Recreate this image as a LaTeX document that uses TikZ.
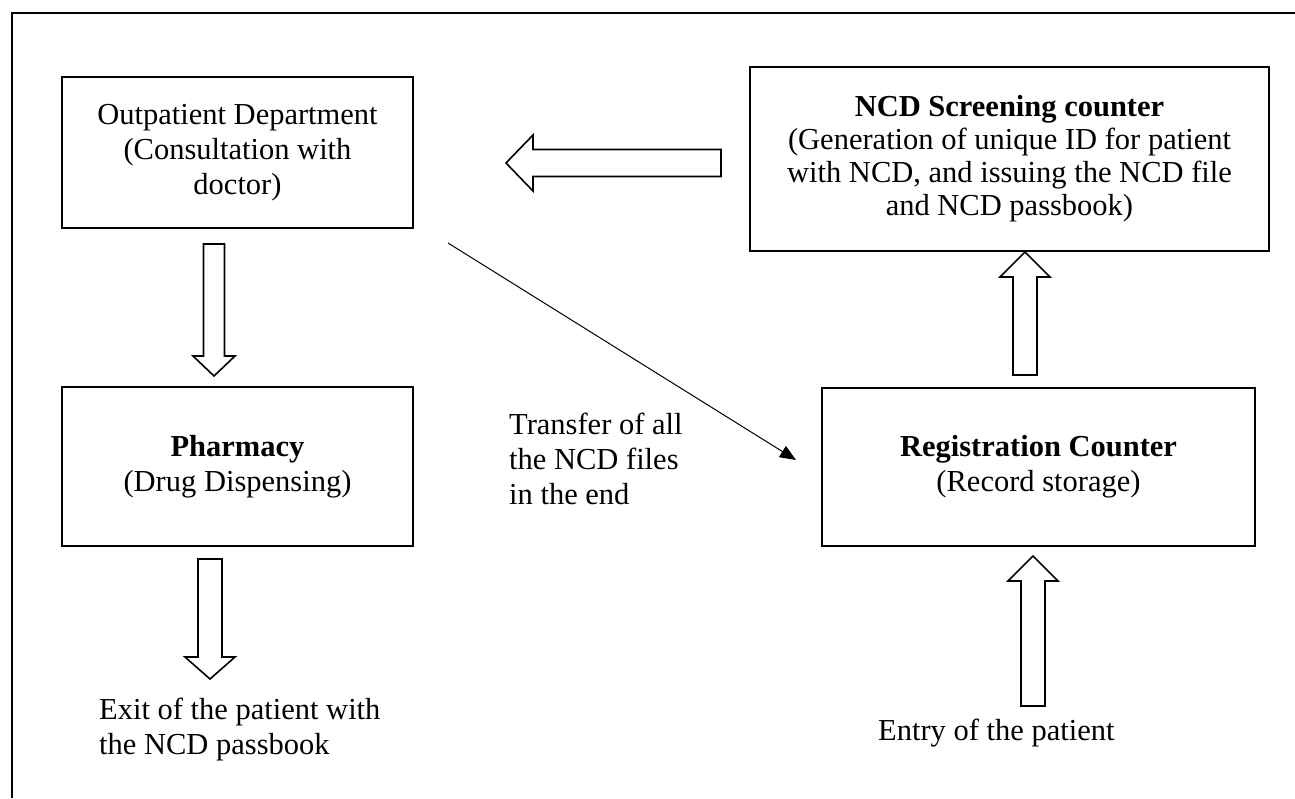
\documentclass[tikz,border=0pt]{standalone}
\usepackage{fontspec}
\setmainfont{Liberation Serif}
\usepackage{tikz}
\usetikzlibrary{arrows.meta, positioning, calc}

\tikzset{
  pics/fatarrow/.style n args={4}{code={
    \draw[blockarr] (0,-#2) -- (#1-#4,-#2) -- (#1-#4,-#3) -- (#1,0)
      -- (#1-#4,#3) -- (#1-#4,#2) -- (0,#2) -- cycle;
  }}
}

\begin{document}
\begin{tikzpicture}[
  x=1pt, y=-1pt,
  box/.style={draw=black, line width=2pt, inner sep=0pt,
              font=\fontsize{30.5}{35}\selectfont, align=center},
  lbl/.style={inner sep=0pt, font=\fontsize{30.5}{35}\selectfont, align=left},
  blockarr/.style={draw=black, fill=white, line width=1.6pt},
  arr/.style={-{Triangle[length=16pt, width=13pt]}, line width=1pt}
]
  \useasboundingbox (0,0) rectangle (1295,798);
  \draw[line width=2.2pt] (12,798) -- (12,13) -- (1295,13);

  \node[box, minimum width=351pt, minimum height=151pt] (opd) at (237.5,152.5)
    {Outpatient Department\\(Consultation with\\doctor)};
  \node[box, minimum width=519pt, minimum height=184pt,
        font=\fontsize{30.5}{33}\selectfont] (ncd) at (1009.5,159)
    {\textbf{NCD Screening counter}\\(Generation of unique ID for patient\\
     with NCD, and issuing the NCD file\\and NCD passbook)};
  \node[box, minimum width=351pt, minimum height=159pt] (pharm) at (237.5,466.5)
    {\textbf{Pharmacy}\\(Drug Dispensing)};
  \node[box, minimum width=433pt, minimum height=158pt] (reg) at (1038.5,467)
    {\textbf{Registration Counter}\\(Record storage)};

  % block arrows
  \pic[rotate=180] at ($(ncd.west)+(-28,4)$) {fatarrow={215}{13.5}{28}{27}};
  \pic[rotate=-90] at ($(opd.south)+(-23.5,15)$) {fatarrow={132}{10.5}{21}{20}};
  \pic[rotate=-90] at ($(pharm.south)+(-27.5,12)$) {fatarrow={120}{12}{25}{22}};
  \pic[rotate=90] at ($(reg.north)+(-13.5,-12)$) {fatarrow={123}{12}{25}{25}};
  \pic[rotate=90] at ($(reg.south)+(-5.5,159)$) {fatarrow={150}{12}{25}{25}};

  % file transfer
  \coordinate (tstart) at ($(opd.south east)+(34,14)$);
  \coordinate (tend) at ($(reg.west)+(-25,-7)$);
  \draw[arr] (tstart) -- (tend);
  \node[lbl, anchor=west] (transfer) at (509,459)
    {Transfer of all\\the NCD files\\in the end};

  \node[lbl, anchor=west] (exit) at (99,729)
    {Exit of the patient with\\the NCD passbook};
  \node[lbl, anchor=west] (entry) at (878,733) {Entry of the patient};
\end{tikzpicture}
\end{document}
